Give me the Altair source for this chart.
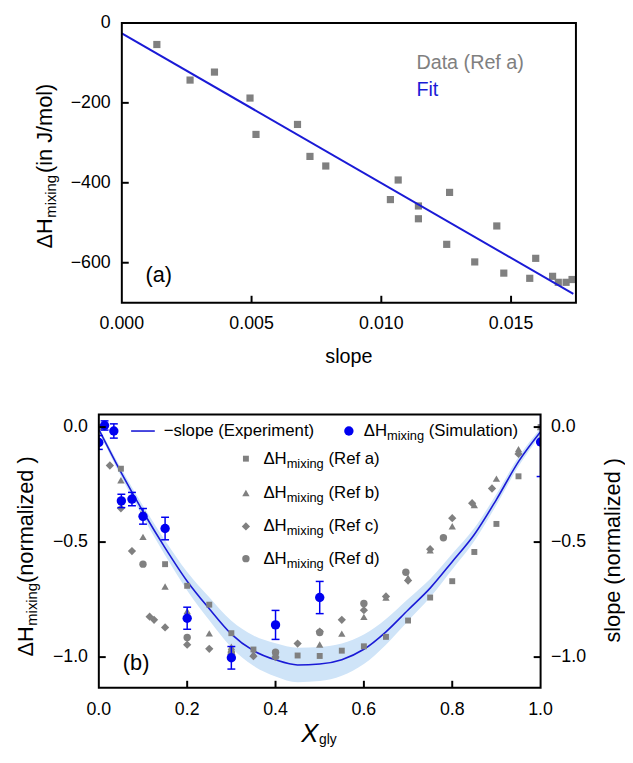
import altair as alt
import pandas as pd

FONT = "Liberation Sans"
GRAY = "#808080"
BLUE = "#0000f0"
LINEBLUE = "#1a1ad6"
BAND = "#cfe4f8"

# ---------------- panel (a) data ----------------
a_slope = [0.00135, 0.00263, 0.00357, 0.00494, 0.00517, 0.00677, 0.00725, 0.00786,
           0.01035, 0.01065, 0.01143, 0.01143, 0.01263, 0.01252, 0.0136, 0.01445,
           0.01472, 0.01572, 0.01595, 0.0166, 0.01682, 0.01712, 0.01735]
a_dh = [-54, -143, -123, -188, -279, -254, -334, -358,
        -442, -393, -458, -490, -424, -554, -598, -508,
        -626, -639, -589, -634, -649, -649, -642]
fit_slope = [0.0, 0.0174]
fit_dh = [-26, -678]
a_xticks = [0.0, 0.005, 0.010, 0.015]
a_yticks = [0, -200, -400, -600]

# ---------------- panel (b) data ----------------
curve_x = [0.0, 0.05, 0.1, 0.15, 0.2, 0.25, 0.3, 0.35, 0.4, 0.45, 0.5,
           0.55, 0.6, 0.65, 0.7, 0.75, 0.8, 0.85, 0.9, 0.95, 1.0]
curve_y = [-0.01, -0.196, -0.367, -0.525, -0.67, -0.79, -0.90, -0.972, -1.012, -1.034, -1.03,
           -1.011, -0.966, -0.89, -0.795, -0.70, -0.585, -0.467, -0.315, -0.15, -0.02]
band_half = [0.01, 0.018, 0.025, 0.032, 0.04, 0.05, 0.058, 0.066, 0.072, 0.075, 0.074,
             0.07, 0.064, 0.056, 0.048, 0.04, 0.034, 0.028, 0.024, 0.02, 0.015]

sim_x = [0.0, 0.013, 0.034, 0.051, 0.075, 0.1, 0.15, 0.2, 0.3, 0.4, 0.5, 1.0]
sim_y = [-0.067, 0.007, -0.017, -0.321, -0.313, -0.388, -0.441, -0.831, -1.003, -0.86, -0.741, -0.065]
sim_err = [0.03, 0.02, 0.031, 0.029, 0.029, 0.034, 0.049, 0.048, 0.049, 0.063, 0.07, 0.15]

refa_x = [0.0, 0.05, 0.1, 0.15, 0.2, 0.25, 0.3, 0.35, 0.4, 0.45, 0.5,
          0.55, 0.6, 0.65, 0.7, 0.75, 0.8, 0.85, 0.9, 0.95, 1.0]
refa_y = [0.0, -0.181, -0.38, -0.596, -0.69, -0.772, -0.896, -0.967, -0.99, -0.993, -0.995,
          -0.972, -0.953, -0.912, -0.841, -0.741, -0.67, -0.543, -0.421, -0.214, 0.0]

refb_x = [0.05, 0.1, 0.15, 0.2, 0.25, 0.3, 0.35, 0.4, 0.5, 0.55, 0.6, 0.65,
          0.7, 0.75, 0.8, 0.85, 0.9, 0.95, 1.0]
refb_y = [-0.231, -0.477, -0.693, -0.80, -0.897, -0.955, -0.985, -0.995, -0.945, -0.898, -0.825, -0.741,
          -0.655, -0.536, -0.431, -0.339, -0.224, -0.096, 0.0]

refc_x = [0.025, 0.05, 0.075, 0.115, 0.125, 0.15, 0.2, 0.25, 0.3, 0.35, 0.4, 0.45, 0.5,
          0.55, 0.6, 0.65, 0.7, 0.75, 0.8, 0.845, 0.89, 0.95]
refc_y = [-0.167, -0.353, -0.539, -0.824, -0.838, -0.871, -0.946, -0.964, -0.99, -0.996, -1.0, -0.941, -0.889,
          -0.838, -0.796, -0.736, -0.667, -0.531, -0.396, -0.331, -0.267, -0.117]

refd_x = [0.1, 0.2, 0.3, 0.4, 0.5, 0.6, 0.695, 0.78]
refd_y = [-0.596, -0.915, -0.981, -0.979, -0.893, -0.767, -0.631, -0.481]

b_xticks = [0.0, 0.2, 0.4, 0.6, 0.8, 1.0]
b_yticks = [0.0, -0.5, -1.0]

# ---------------- frame geometry (pixels inside the view) ----------------
A_L, A_R, A_T, A_B = 115.3, 575.3, 10.3, 293.7
B_L, B_R, B_T, B_B = 92.0, 539.5, 407.0, 683.7
TK = 7

ONE = alt.Data(values=[{"k": 0}])


def txt(s, x, y, size, color="black", align="left", baseline="middle", angle=0, italic=False):
    kw = dict(text=s, fontSize=size, font=FONT, color=color, align=align, baseline=baseline)
    if angle:
        kw["angle"] = angle
    if italic:
        kw["fontStyle"] = "italic"
    return alt.Chart(ONE).mark_text(**kw).encode(x=alt.value(x), y=alt.value(y))


def sym(shape, x, y, size, color):
    return alt.Chart(ONE).mark_point(shape=shape, filled=True, size=size, color=color, opacity=1).encode(
        x=alt.value(x), y=alt.value(y))


def box(x1, x2, y1, y2, fill=None, stroke=None):
    kw = {}
    if fill:
        kw.update(fill=fill, fillOpacity=1)
    else:
        kw.update(fillOpacity=0)
    if stroke:
        kw.update(stroke=stroke, strokeWidth=2)
    else:
        kw.update(strokeWidth=0)
    return alt.Chart(ONE).mark_rect(**kw).encode(
        x=alt.value(x1), x2=alt.value(x2), y=alt.value(y1), y2=alt.value(y2))


# ---------------- scales ----------------
sx_a = alt.Scale(domain=[0, 0.0175], range=[A_L, A_R], nice=False, zero=False)
sy_a = alt.Scale(domain=[-700, 0], range=[A_B, A_T], nice=False, zero=False)
sx_b = alt.Scale(domain=[0, 1], range=[B_L, B_R], nice=False, zero=False)
sy_b = alt.Scale(domain=[-1.133, 0.0545], range=[B_B, B_T], nice=False, zero=False)


def xa(f="slope"):
    return alt.X(f"{f}:Q", scale=sx_a, axis=None)


def ya(f="dH"):
    return alt.Y(f"{f}:Q", scale=sy_a, axis=None)


def xb(f="xgly"):
    return alt.X(f"{f}:Q", scale=sx_b, axis=None)


def yb(f="val"):
    return alt.Y(f"{f}:Q", scale=sy_b, axis=None)


LBL = dict(fontSize=18, font=FONT, color="black")

# ---------------- panel (a) ----------------
dfa = pd.DataFrame({"slope": a_slope, "dH": a_dh})
dfit = pd.DataFrame({"slope": fit_slope, "dH": fit_dh})
dxa = pd.DataFrame({"slope": a_xticks})
dya = pd.DataFrame({"dH": a_yticks})

group_a = alt.layer(
    alt.Chart(dfa).mark_point(shape="square", filled=True, size=53, color=GRAY, opacity=1).encode(
        x=xa(), y=ya()),
    alt.Chart(dfit).mark_line(color=LINEBLUE, strokeWidth=2).encode(x=xa(), y=ya()),
    alt.Chart(dxa).transform_filter("datum.slope > 0").mark_rule(color="black", strokeWidth=2).encode(
        x=xa(), y=alt.value(A_B), y2=alt.value(A_B - TK)),
    alt.Chart(dya).transform_filter("datum.dH < 0").mark_rule(color="black", strokeWidth=2).encode(
        y=ya(), x=alt.value(A_L), x2=alt.value(A_L + TK)),
    alt.Chart(dxa).mark_text(align="center", baseline="middle", **LBL).encode(
        x=xa(), y=alt.value(315.3), text=alt.Text("slope:Q", format=".3f")),
    alt.Chart(dya).mark_text(align="right", baseline="middle", **LBL).encode(
        y=ya(), x=alt.value(104), text=alt.Text("dH:Q", format="d")),
)

# ---------------- panel (b) data marks ----------------
dcurve = pd.DataFrame({"xgly": curve_x, "val": curve_y, "half": band_half})
dcurve["lo"] = dcurve["val"] - dcurve["half"]
dcurve["hi"] = dcurve["val"] + dcurve["half"]
dsim = pd.DataFrame({"xgly": sim_x, "val": sim_y, "err": sim_err})
dsim["lo"] = dsim["val"] - dsim["err"]
dsim["hi"] = dsim["val"] + dsim["err"]


def refpts(xs, ys, shape, size):
    return alt.Chart(pd.DataFrame({"xgly": xs, "val": ys})).mark_point(
        shape=shape, filled=True, size=size, color=GRAY, opacity=1).encode(x=xb(), y=yb())


group_b = alt.layer(
    alt.Chart(dcurve).mark_area(color=BAND, opacity=1, interpolate="monotone").encode(
        x=xb(), y=yb("lo"), y2="hi:Q"),
    alt.Chart(dcurve).mark_line(color=LINEBLUE, strokeWidth=1.6, interpolate="monotone").encode(
        x=xb(), y=yb()),
    refpts(refa_x, refa_y, "square", 36),
    refpts(refb_x, refb_y, "triangle-up", 55),
    refpts(refc_x, refc_y, "diamond", 70),
    refpts(refd_x, refd_y, "circle", 56),
    alt.Chart(dsim).mark_rule(color=BLUE, strokeWidth=1.5).encode(x=xb(), y=yb("lo"), y2="hi:Q"),
    alt.Chart(dsim).mark_tick(color=BLUE, orient="horizontal", size=8, thickness=1.5, opacity=1).encode(
        x=xb(), y=yb("lo")),
    alt.Chart(dsim).mark_tick(color=BLUE, orient="horizontal", size=8, thickness=1.5, opacity=1).encode(
        x=xb(), y=yb("hi")),
    alt.Chart(dsim).mark_point(shape="circle", filled=True, size=90, color=BLUE, opacity=1).encode(
        x=xb(), y=yb()),
)

# masks that clip panel (b) to its frame
masks = alt.layer(
    box(0, B_L, B_T - 30, B_B + 12, fill="white"),
    box(B_R, 625, B_T - 30, B_B + 12, fill="white"),
    box(B_L - 10, B_R + 10, B_T - 30, B_T, fill="white"),
    box(B_L - 10, B_R + 10, B_B, B_B + 12, fill="white"),
    box(A_L, A_R, A_T, A_B, stroke="black"),
    box(B_L, B_R, B_T, B_B, stroke="black"),
)

# ---------------- panel (b) ticks and labels ----------------
dxb = pd.DataFrame({"xgly": b_xticks})
dyb = pd.DataFrame({"val": b_yticks})
axes_b = alt.layer(
    alt.Chart(dxb).transform_filter("datum.xgly > 0 && datum.xgly < 1").mark_rule(
        color="black", strokeWidth=2).encode(x=xb(), y=alt.value(B_B), y2=alt.value(B_B - TK)),
    alt.Chart(dyb).mark_rule(color="black", strokeWidth=2).encode(
        y=yb(), x=alt.value(B_L), x2=alt.value(B_L + TK)),
    alt.Chart(dyb).mark_rule(color="black", strokeWidth=2).encode(
        y=yb(), x=alt.value(B_R - TK), x2=alt.value(B_R)),
    alt.Chart(dxb).mark_text(align="center", baseline="middle", **LBL).encode(
        x=xb(), y=alt.value(706), text=alt.Text("xgly:Q", format=".1f")),
    alt.Chart(dyb).mark_text(align="right", baseline="middle", **LBL).encode(
        y=yb(), x=alt.value(81), text=alt.Text("val:Q", format=".1f")),
    alt.Chart(dyb).mark_text(align="left", baseline="middle", **LBL).encode(
        y=yb(), x=alt.value(550), text=alt.Text("val:Q", format=".1f")),
)

# ---------------- texts / legends ----------------
deco = [
    txt("Data (Ref a)", 413.7, 51.3, 20, color=GRAY),
    txt("Fit", 413.7, 78.7, 20, color=LINEBLUE),
    txt("(a)", 152.7, 265.3, 22, align="center"),
    txt("ΔH", 45, 238.7, 22, baseline="alphabetic", angle=270),
    txt("mixing", 49, 207.6, 15, baseline="alphabetic", angle=270),
    txt("(in J/mol)", 45, 162.3, 22, baseline="alphabetic", angle=270),
    txt("slope", (A_L + A_R) / 2, 355, 20, align="center", baseline="alphabetic"),
    txt("(b)", 129.8, 659, 22, align="center"),
    txt("ΔH", 25, 652, 22, baseline="alphabetic", angle=270),
    txt("mixing", 29, 620.9, 15, baseline="alphabetic", angle=270),
    txt("(normalized )", 25, 577.6, 22, baseline="alphabetic", angle=270),
    txt("slope (normalized )", 620, 638, 22, baseline="alphabetic", angle=270),
    txt("X", 297, 739, 26, baseline="alphabetic", italic=True),
    txt("gly", 315, 741, 14, baseline="alphabetic"),
]

R1 = B_T + 16.7
deco += [
    alt.Chart(ONE).mark_rule(color=LINEBLUE, strokeWidth=1.6).encode(
        x=alt.value(B_L + 32.7), x2=alt.value(B_L + 56.7), y=alt.value(R1)),
    txt("\u2212slope (Experiment)", B_L + 65.7, R1, 17),
    sym("circle", B_L + 253.3, R1, 90, BLUE),
    txt("ΔH", B_L + 268.3, R1, 17),
    txt("mixing", B_L + 291.9, R1 + 5, 13),
    txt("(Simulation)", B_L + 334.2, R1, 17),
]
for shape, size, dy, lab in [("square", 36, 44.7, "(Ref a)"),
                             ("triangle-up", 55, 79.5, "(Ref b)"),
                             ("diamond", 70, 113.3, "(Ref c)"),
                             ("circle", 56, 146, "(Ref d)")]:
    yy = B_T + dy
    deco += [
        sym(shape, B_L + 149, yy, size, GRAY),
        txt("ΔH", B_L + 166.7, yy, 17),
        txt("mixing", B_L + 190.3, yy + 5, 13),
        txt(lab, B_L + 232.6, yy, 17),
    ]

chart = alt.layer(group_a, group_b, masks, axes_b, *deco).resolve_scale(
    x="independent", y="independent"
).properties(
    width=625, height=743, padding=0,
    autosize=alt.AutoSizeParams(type="none"),
).configure_view(strokeWidth=0)

chart.save("out.html", embed_options={"renderer": "svg", "actions": False})
